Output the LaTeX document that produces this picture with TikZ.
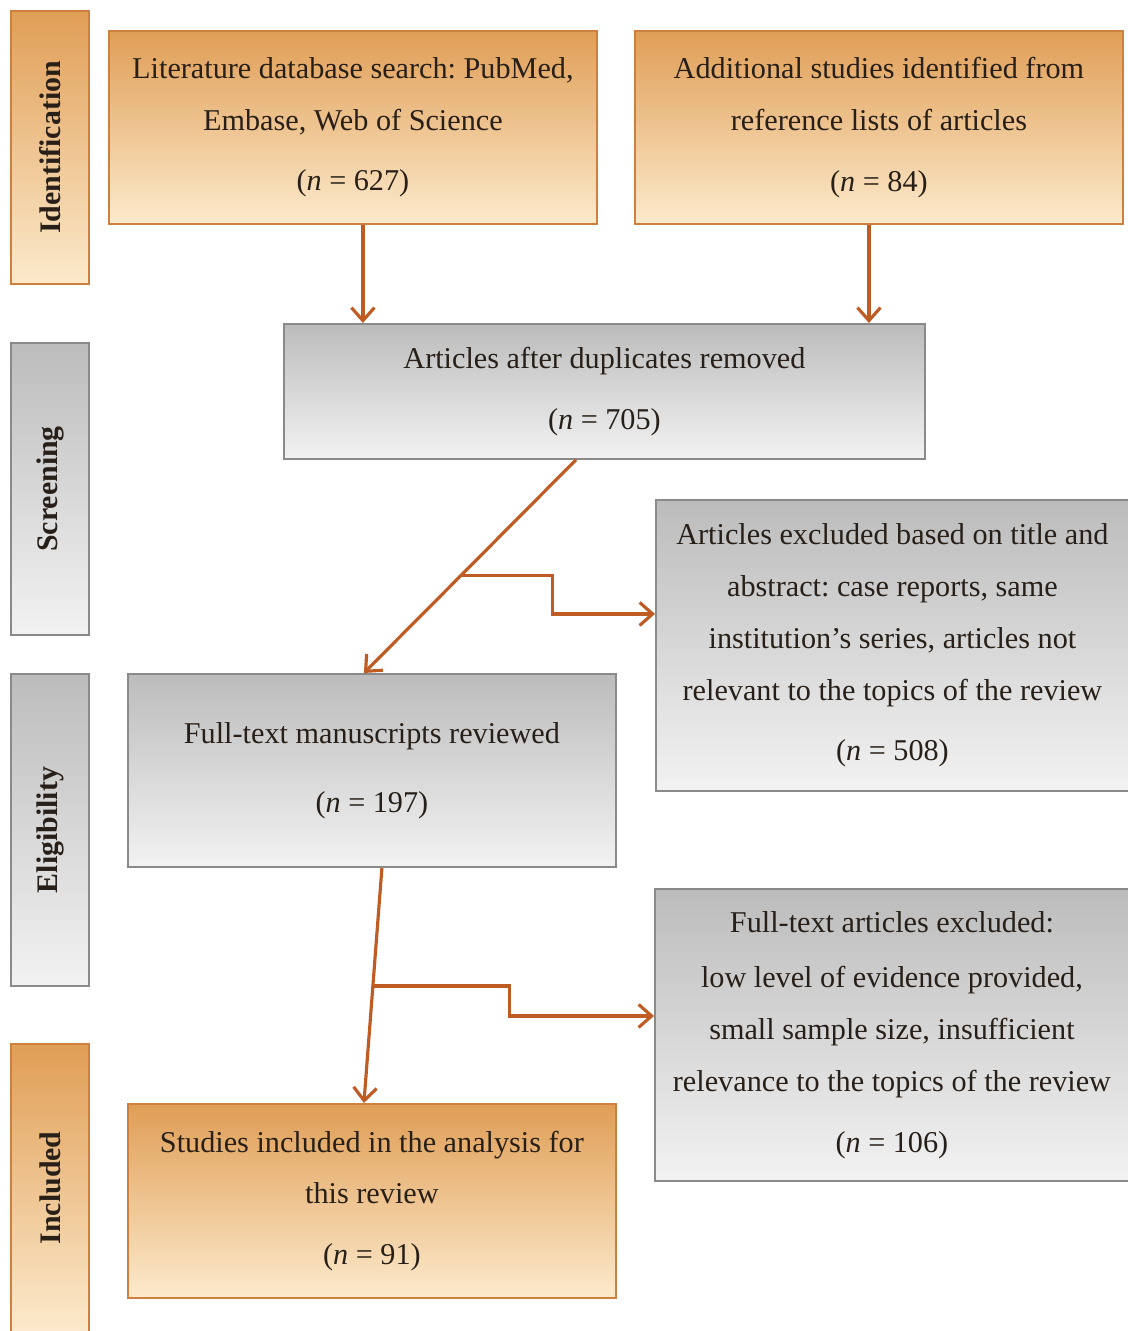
\documentclass[tikz,border=0pt]{standalone}
\usepackage{fontspec}
\setmainfont{Liberation Serif}
\usetikzlibrary{arrows.meta,calc}
\frenchspacing

\definecolor{orTop}{RGB}{224,158,86}
\definecolor{orBot}{RGB}{252,234,204}
\definecolor{orLine}{RGB}{206,128,62}
\definecolor{grTop}{RGB}{188,188,188}
\definecolor{grBot}{RGB}{242,242,242}
\definecolor{grLine}{RGB}{138,138,138}
\definecolor{arr}{RGB}{190,92,36}
\definecolor{txt}{RGB}{40,32,24}

\tikzset{
  box/.style={draw, line width=1.1pt, inner sep=0pt, anchor=north west,
    align=center, text=txt, font=\fontsize{17.2}{29.5}\selectfont},
  orbox/.style={box, draw=orLine, top color=orTop, bottom color=orBot},
  grbox/.style={box, draw=grLine, top color=grTop, bottom color=grBot},
  phase/.style={minimum width=1.56cm, font=\fontsize{17}{19}\selectfont\bfseries},
  flow/.style={draw=arr, line width=1.8pt,
    -{Straight Barb[length=2.6mm,width=4.6mm,line width=1.8pt]}}
}

\begin{document}
\begin{tikzpicture}[x=0.02cm, y=-0.02cm]
  \useasboundingbox (0,0) rectangle (1128,1331);

  % phase bars on the left
  \node[orbox, phase, minimum height=5.46cm]
    (ident) at (10,10) {\rotatebox{90}{Identification}};
  \node[grbox, phase, minimum height=5.84cm]
    (screen) at (10,342) {\rotatebox{90}{Screening}};
  \node[grbox, phase, minimum height=6.24cm]
    (elig) at (10,673) {\rotatebox{90}{Eligibility}};
  \node[orbox, phase, minimum height=5.76cm]
    (incl) at (10,1043) {\rotatebox{90}{Included}};

  % flow boxes
  \node[orbox, minimum width=9.76cm, minimum height=3.86cm]
    (lit) at (108,30) {Literature database search: PubMed,\\
      Embase, Web of Science\\[5pt] (\textit{n} = 627)};

  \node[orbox, minimum width=9.76cm, minimum height=3.86cm]
    (add) at (634,30) {Additional studies identified from\\
      reference lists of articles\\[5pt] (\textit{n} = 84)};

  \node[grbox, minimum width=12.82cm, minimum height=2.70cm]
    (dup) at (283,323) {Articles after duplicates removed\\[5pt]
      (\textit{n} = 705)};

  \node[grbox, minimum width=9.46cm, minimum height=5.82cm]
    (exA) at (655,499) {Articles excluded based on title and\\
      abstract: case reports, same\\
      institution's series, articles not\\
      relevant to the topics of the review\\[5pt] (\textit{n} = 508)};

  \node[grbox, minimum width=9.76cm, minimum height=3.86cm]
    (full) at (127,673) {Full-text manuscripts reviewed\\[10pt]
      (\textit{n} = 197)};

  \node[grbox, minimum width=9.48cm, minimum height=5.84cm]
    (exB) at (654,888) {Full-text articles excluded:\\[2pt]
      low level of evidence provided,\\
      small sample size, insufficient\\
      relevance to the topics of the review\\[5pt] (\textit{n} = 106)};

  \node[orbox, minimum width=9.76cm, minimum height=3.88cm]
    (stud) at (127,1103) {Studies included in the analysis for\\
      this review\\[5pt] (\textit{n} = 91)};

  % connectors
  \coordinate (d1) at ([xshift=-0.57cm]dup.south);
  \coordinate (d2) at ([xshift=-0.16cm]full.north);
  \coordinate (d3) at ([xshift=0.2cm]full.south);
  \coordinate (d4) at ([xshift=-0.16cm]stud.north);
  \coordinate (b1) at ($(d1)!0.544!(d2)$);
  \coordinate (b2) at ($(d3)!0.502!(d4)$);

  \draw[flow] ([xshift=0.2cm]lit.south) -- ([xshift=0.2cm]lit.south |- dup.north);
  \draw[flow] ([xshift=-0.2cm]add.south) -- ([xshift=-0.2cm]add.south |- dup.north);

  \draw[flow] (d1) -- (d2);
  \draw[flow] (b1) -- ++(92,0) |- ([yshift=0.63cm]exA.west);

  \draw[flow] (d3) -- (d4);
  \draw[flow] (b2) -- ++(137,0) |- ([yshift=0.38cm]exB.west);
\end{tikzpicture}
\end{document}
